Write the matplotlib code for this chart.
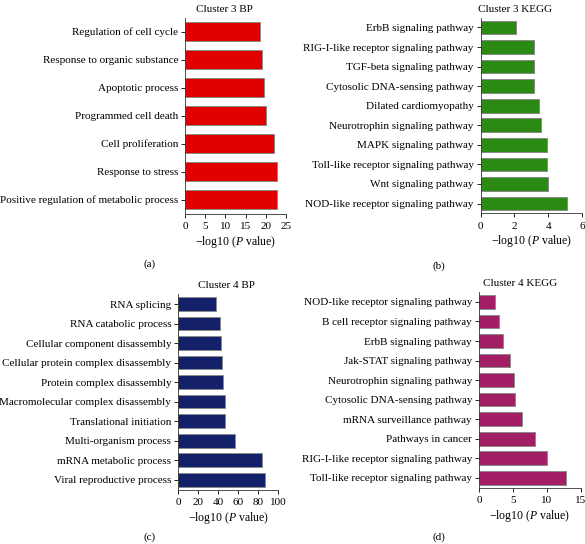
import matplotlib.pyplot as plt

plt.rcParams['font.family'] = ['Liberation Serif', 'DejaVu Serif']
plt.rcParams['mathtext.fontset'] = 'custom'
plt.rcParams['mathtext.it'] = 'Liberation Serif:italic'
plt.rcParams['mathtext.rm'] = 'Liberation Serif'

# data, listed bottom to top
bp3_terms = ["Positive regulation of metabolic process", "Response to stress",
             "Cell proliferation", "Programmed cell death", "Apoptotic process",
             "Response to organic substance", "Regulation of cell cycle"]
bp3_vals = [22.8, 22.8, 22.1, 20.0, 19.6, 19.1, 18.6]

kegg3_terms = ["NOD-like receptor signaling pathway", "Wnt signaling pathway",
               "Toll-like receptor signaling pathway", "MAPK signaling pathway",
               "Neurotrophin signaling pathway", "Dilated cardiomyopathy",
               "Cytosolic DNA-sensing pathway", "TGF-beta signaling pathway",
               "RIG-I-like receptor signaling pathway", "ErbB signaling pathway"]
kegg3_vals = [5.1, 3.98, 3.93, 3.9, 3.6, 3.47, 3.15, 3.15, 3.15, 2.07]

bp4_terms = ["Viral reproductive process", "mRNA metabolic process",
             "Multi-organism process", "Translational initiation",
             "Macromolecular complex disassembly", "Protein complex disassembly",
             "Cellular protein complex disassembly", "Cellular component disassembly",
             "RNA catabolic process", "RNA splicing"]
bp4_vals = [86.7, 83.7, 57.0, 47.0, 46.7, 45.0, 44.0, 42.3, 41.7, 37.7]

kegg4_terms = ["Toll-like receptor signaling pathway", "RIG-I-like receptor signaling pathway",
               "Pathways in cancer", "mRNA surveillance pathway",
               "Cytosolic DNA-sensing pathway", "Neurotrophin signaling pathway",
               "Jak-STAT signaling pathway", "ErbB signaling pathway",
               "B cell receptor signaling pathway", "NOD-like receptor signaling pathway"]
kegg4_vals = [12.85, 10.0, 8.26, 6.4, 5.3, 5.2, 4.5, 3.6, 2.95, 2.3]

W, H = 585, 544
fig = plt.figure(figsize=(W / 100, H / 100), dpi=100)

panels = [
    # terms, values, color, title, xmax, ticks, rect(px: left, top, right, bottom), bar height, title x, letter
    (bp3_terms, bp3_vals, '#E00000', 'Cluster 3 BP', 25, [0, 5, 10, 15, 20, 25],
     (185, 17.5, 286, 213.5), 0.67, 0.39, '(a)', (150, 264)),
    (kegg3_terms, kegg3_vals, '#2B8A14', 'Cluster 3 KEGG', 6, [0, 2, 4, 6],
     (480.7, 17.7, 582, 213.3), 0.70, 0.34, '(b)', (439, 266)),
    (bp4_terms, bp4_vals, '#15206B', 'Cluster 4 BP', 100, [0, 20, 40, 60, 80, 100],
     (178.3, 294.3, 278.3, 489.5), 0.70, 0.48, '(c)', (150, 537)),
    (kegg4_terms, kegg4_vals, '#A21F66', 'Cluster 4 KEGG', 15, [0, 5, 10, 15],
     (479, 292.2, 580.7, 487.5), 0.70, 0.40, '(d)', (439, 537)),
]

for terms, vals, color, title, xmax, ticks, (l, t, r, b), bh, tx, letter, (lx, ly) in panels:
    ax = fig.add_axes([l / W, 1 - b / H, (r - l) / W, (b - t) / H])
    y = range(len(terms))
    ax.barh(y, vals, height=bh, color=color, edgecolor='#8a8a8a', linewidth=0.7)
    ax.set_yticks(list(y))
    ax.set_yticklabels(terms, fontsize=8)
    ax.set_ylim(-0.5, len(terms) - 0.5)
    ax.set_xlim(0, xmax)
    ax.set_xticks(ticks)
    ax.tick_params(axis='x', labelsize=8, length=3, width=0.6, pad=3)
    ax.tick_params(axis='y', length=3, width=0.6, pad=2)
    for s in ['top', 'right']:
        ax.spines[s].set_visible(False)
    for s in ['left', 'bottom']:
        ax.spines[s].set_linewidth(0.6)
        ax.spines[s].set_color('#333333')
    ax.set_xlabel(r'$-$log10 ($\it{P}$ value)', fontsize=8.5, labelpad=2)
    ax.text(tx, 1.0 + 8.5 / (b - t), title, transform=ax.transAxes,
            ha='center', va='center', fontsize=8)
    fig.text(lx / W, 1 - ly / H, letter, ha='center', va='center', fontsize=8)

fig.savefig('out.png', dpi=100)
